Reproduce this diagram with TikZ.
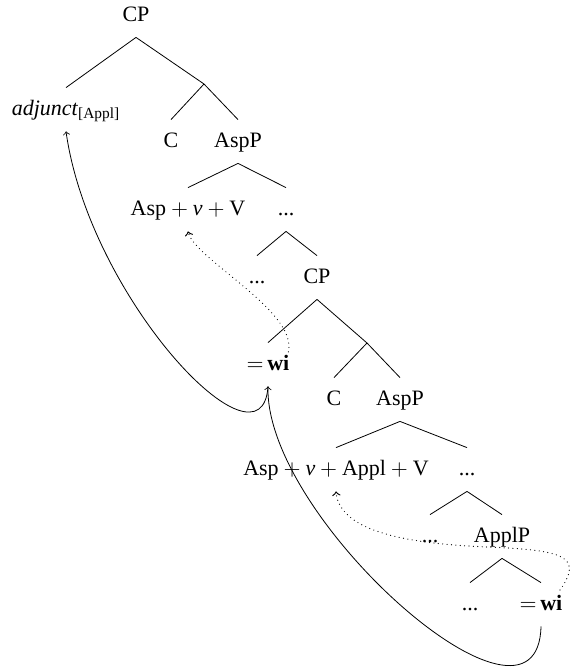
\documentclass[tikz,border=0pt]{standalone}
\usepackage{fontspec}
\setmainfont{Liberation Serif}

\begin{document}
\begin{tikzpicture}[x=0.5pt,y=-0.5pt]
  \useasboundingbox (0,0) rectangle (574,669);

  \begin{scope}[every node/.style={anchor=base,font=\fontsize{11}{13}\selectfont,
      text height=7pt,text depth=1.5pt,inner ysep=6.5pt}]
      \node (cp1) at (136,21) {CP};

      \node (adj) at (66,115) {\textit{adjunct}\textsubscript{[Appl]}};
      \node (c1) at (171,147) {C};
      \node (asp1) at (238,147) {AspP};

      \node (aspvv) at (188,215) {Asp${}+{}$\textit{v}${}+{}$V};
      \node (dots1) at (286,215) {...};

      \node (dots2) at (257,283) {...};
      \node (cp2) at (317,283) {CP};

      \node (wi1) at (268,370) {${=}\,$\textbf{wi}};
      \node (c2) at (334,405) {C};
      \node (asp2) at (400,405) {AspP};

      \node (aspvav) at (336,475) {Asp${}+{}$\textit{v}${}+{}$Appl${}+{}$V};
      \node (dots3) at (467,475) {...};

      \node (dots4) at (430,542) {...};
      \node (applp) at (502,542) {ApplP};

      \node (dots5) at (470,610) {...};
      \node (wi2) at (541,610) {${=}\,$\textbf{wi}};
  \end{scope}

  \coordinate (bar1) at (204,84);
  \coordinate (bar2) at (367,343);

  \tikzset{branch/.style={-, black, thin},
    move arc/.style={->, black, thin},
    head arc/.style={->, black, line width=0.6pt, line cap=round, dash pattern=on 0pt off 2.2pt}}

  % tree
  \draw[branch] (cp1.south) -- (adj.north);
  \draw[branch] (cp1.south) -- (bar1);
  \draw[branch] (bar1) -- (c1.north);
  \draw[branch] (bar1) -- (asp1.north);

  \draw[branch] (asp1.south) -- (aspvv.north);
  \draw[branch] (asp1.south) -- (dots1.north);
  \draw[branch] (dots1.south) -- (dots2.north);
  \draw[branch] (dots1.south) -- (cp2.north);

  \draw[branch] (cp2.south) -- (wi1.north);
  \draw[branch] (cp2.south) -- (bar2);
  \draw[branch] (bar2) -- (c2.north);
  \draw[branch] (bar2) -- (asp2.north);

  \draw[branch] (asp2.south) -- (aspvav.north);
  \draw[branch] (asp2.south) -- (dots3.north);
  \draw[branch] (dots3.south) -- (dots4.north);
  \draw[branch] (dots3.south) -- (applp.north);
  \draw[branch] (applp.south) -- (dots5.north);
  \draw[branch] (applp.south) -- (wi2.north);

  % movement
  \draw[move arc] (wi2.south) .. controls (538,760) and (265,520) .. (wi1.south);
  \draw[move arc] (wi1.south) .. controls (262,480) and (90,300) .. (adj.south);

  % head movement
  \draw[head arc] ([shift={(19,-14)}]wi1.base) .. controls (305,315) and (195,260) .. (aspvv.south);
  \draw[head arc] ([shift={(19,-20)}]wi2.base) .. controls (585,555) and (560,550) .. (487,547)
    .. controls (420,544) and (340,535) .. (aspvav.south);

\end{tikzpicture}
\end{document}
